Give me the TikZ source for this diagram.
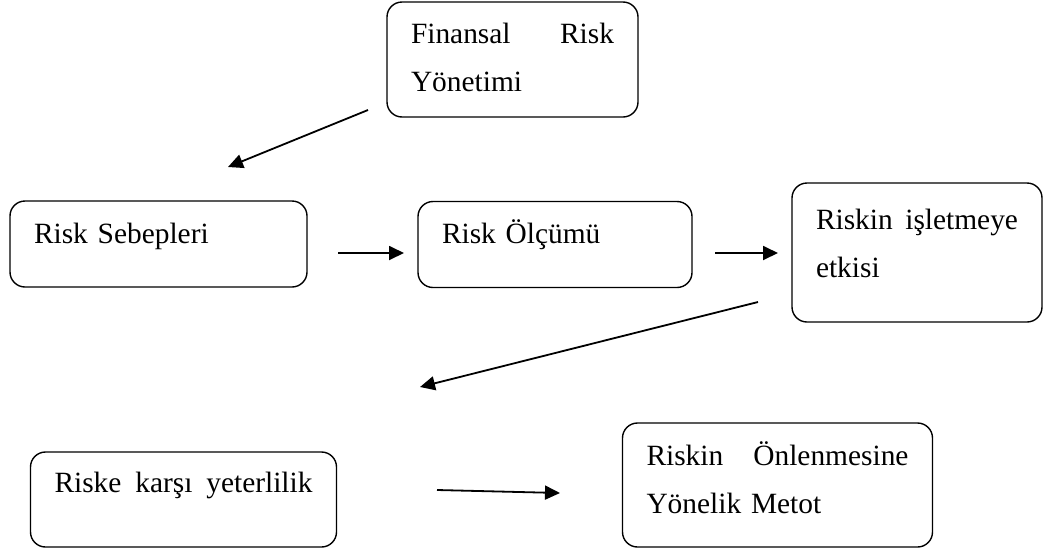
\documentclass[tikz,border=0pt]{standalone}
\usepackage{fontspec}
\setmainfont{Liberation Serif}
\usepackage{tikz}
\usetikzlibrary{arrows.meta}
\newcommand{\spreadline}[2]{\hbox to #1{#2}}

\begin{document}
\begin{tikzpicture}[x=0.5pt,y=-0.5pt,
		box/.style={draw,rounded corners=7.5pt,line width=0.7pt,align=left,inner xsep=12pt,inner ysep=2pt,text height=10pt,font=\fontsize{14.7}{24}\selectfont},
		flow/.style={line width=0.9pt,-{Triangle[length=7.5pt,width=7pt]}},
		]
		\useasboundingbox (0,0) rectangle (1043,552);
		% boxes
		\node[box,text width=101.5pt,minimum height=57.5pt,text depth=26.5pt] (FRY) at (512.5,59.5) {\spreadline{101.5pt}{Finansal\hfill Risk}\\Yönetimi};
		\node[box,text width=124.5pt,minimum height=43pt,text depth=11pt] (RS) at (158.5,244) {Risk Sebepleri};
		\node[box,text width=113pt,minimum height=43pt,text depth=11pt] (RO) at (555,244.5) {Risk Ölçümü};
		\node[box,text width=101pt,minimum height=69.5pt,text depth=33pt] (RIE) at (917,252.5) {\spreadline{101pt}{Riskin\hfill işletmeye}\\etkisi};
		\node[box,text width=129pt,minimum height=47.5pt,text depth=17.5pt] (RKY) at (183.5,499.5) {\spreadline{129pt}{Riske\hfill karşı\hfill yeterlilik}};
		\node[box,text width=131pt,minimum height=62pt,text depth=30pt] (RYM) at (777.5,485) {\spreadline{131pt}{Riskin\hfill Önlenmesine}\\Yönelik Metot};
		% arrows
		\coordinate (A1) at (368,110);
		\coordinate (A2) at (228,167);
		\coordinate (B1) at (338,253);
		\coordinate (B2) at (404,253);
		\coordinate (C1) at (715,253);
		\coordinate (C2) at (778,253);
		\coordinate (D1) at (758,302);
		\coordinate (D2) at (420,387);
		\coordinate (E1) at (437,490);
		\coordinate (E2) at (560,493);
		\draw[flow] (A1) -- (A2);
		\draw[flow] (B1) -- (B2);
		\draw[flow] (C1) -- (C2);
		\draw[flow] (D1) -- (D2);
		\draw[flow] (E1) -- (E2);
	\end{tikzpicture}
\end{document}
